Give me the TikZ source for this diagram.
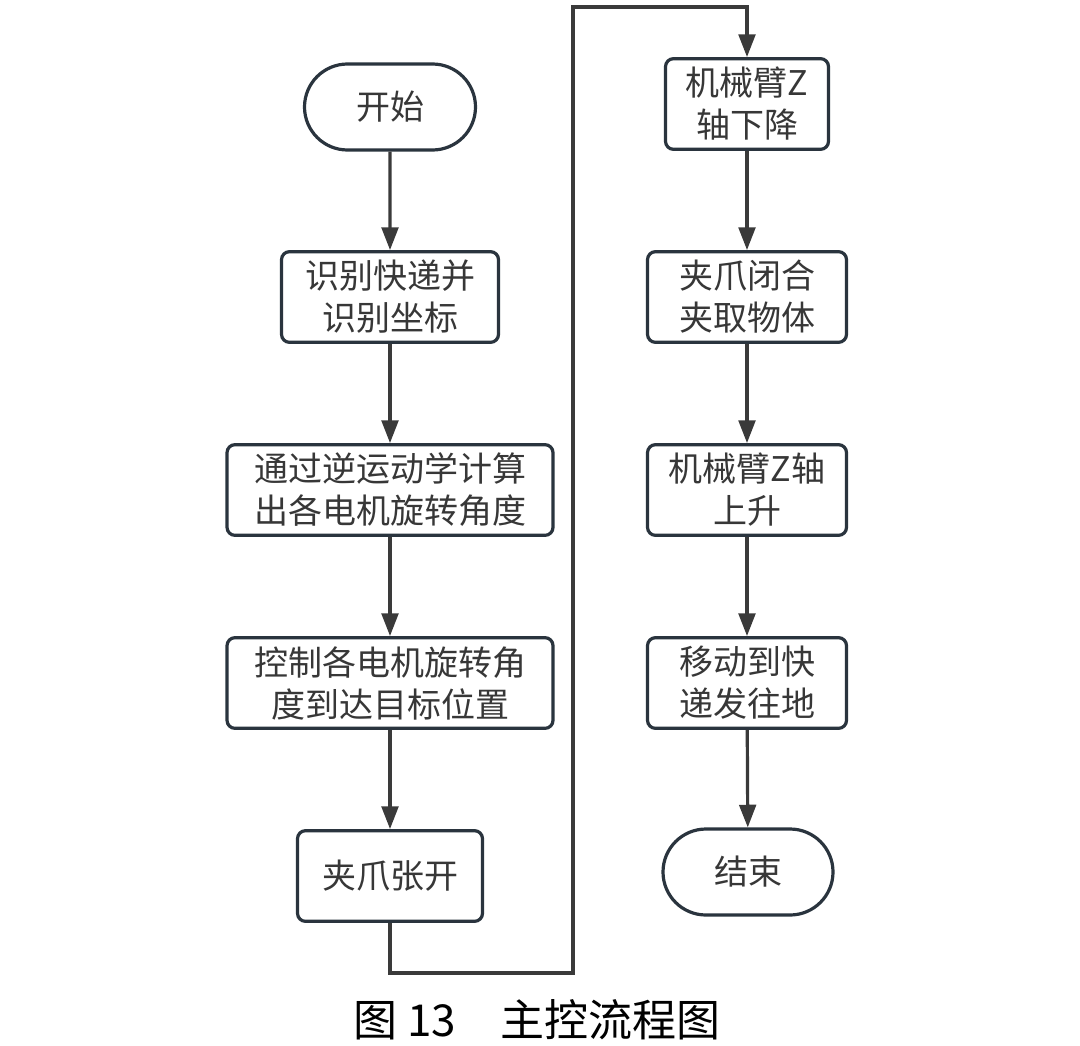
\documentclass[tikz,border=0pt]{standalone}
\usepackage{fontspec}
\setmainfont{Noto Sans CJK SC}
\usetikzlibrary{arrows.meta,shapes.misc}

\definecolor{boxline}{RGB}{42,52,62}
\definecolor{txtgray}{RGB}{55,55,55}
\definecolor{flowgray}{RGB}{58,58,58}

\tikzset{every picture/.style={line width=0.75pt}}
\tikzset{
  procbox/.style={draw=boxline, line width=2.4pt, rounded corners=6pt, fill=white,
    text=txtgray, align=center, inner sep=0pt, minimum height=68pt,
    font=\fontsize{25.5}{31.5}\selectfont},
  termbox/.style={draw=boxline, line width=2.4pt, rounded rectangle, fill=white,
    text=txtgray, align=center, inner sep=0pt, minimum height=64.5pt,
    font=\fontsize{25.5}{31.5}\selectfont},
  flowline/.style={draw=flowgray, line width=2.4pt, -{Triangle[length=17pt,width=12.5pt]}}
}

\begin{document}
\begin{tikzpicture}[x=0.75pt,y=0.75pt,yscale=-1,xscale=1]
	\useasboundingbox (0,0) rectangle (1080,1045);

	%Shape: Terminal [start]
	\node [termbox, minimum width=128.25pt] (start) at (390,107) {开始};
	%Shape: Rectangle [recog]
	\node [procbox, minimum width=162.75pt] (recog) at (390,297) {识别快递并\\识别坐标};
	%Shape: Rectangle [ik]
	\node [procbox, minimum width=244.5pt] (ik) at (390,490) {通过逆运动学计算\\出各电机旋转角度};
	%Shape: Rectangle [ctrl]
	\node [procbox, minimum width=244.5pt] (ctrl) at (390,683) {控制各电机旋转角\\度到达目标位置};
	%Shape: Rectangle [open]
	\node [procbox, minimum width=138.75pt] (open) at (390,876) {夹爪张开};

	%Shape: Rectangle [zdown]
	\node [procbox, minimum width=122.25pt] (zdown) at (747,104) {机械臂Z\\轴下降};
	%Shape: Rectangle [grip]
	\node [procbox, minimum width=149.25pt] (grip) at (747,297) {夹爪闭合\\夹取物体};
	%Shape: Rectangle [zup]
	\node [procbox, minimum width=149.25pt] (zup) at (747,490) {机械臂Z轴\\上升};
	%Shape: Rectangle [move]
	\node [procbox, minimum width=149.25pt] (move) at (747,683) {移动到快\\递发往地};
	%Shape: Terminal [stop]
	\node [termbox, minimum width=127.5pt] (stop) at (748,872) {结束};

	%Straight Lines
	\draw [flowline] (start) -- (recog);
	\draw [flowline] (recog) -- (ik);
	\draw [flowline] (ik) -- (ctrl);
	\draw [flowline] (ctrl) -- (open);

	%Connector: back up to the second column
	\coordinate (loopbot) at (573,973);
	\coordinate (looptop) at (573,7);
	\draw [flowline] (open.south) |- (loopbot) -- (looptop) -| (zdown.north);

	\draw [flowline] (zdown) -- (grip);
	\draw [flowline] (grip) -- (zup);
	\draw [flowline] (zup) -- (move);
	\draw [flowline] (move) -- (stop);

	% Text Node
	\node [font=\fontsize{33}{38}\selectfont, text=black, inner sep=0pt] (caption) at (537,1020) {图 13　主控流程图};

\end{tikzpicture}
\end{document}
